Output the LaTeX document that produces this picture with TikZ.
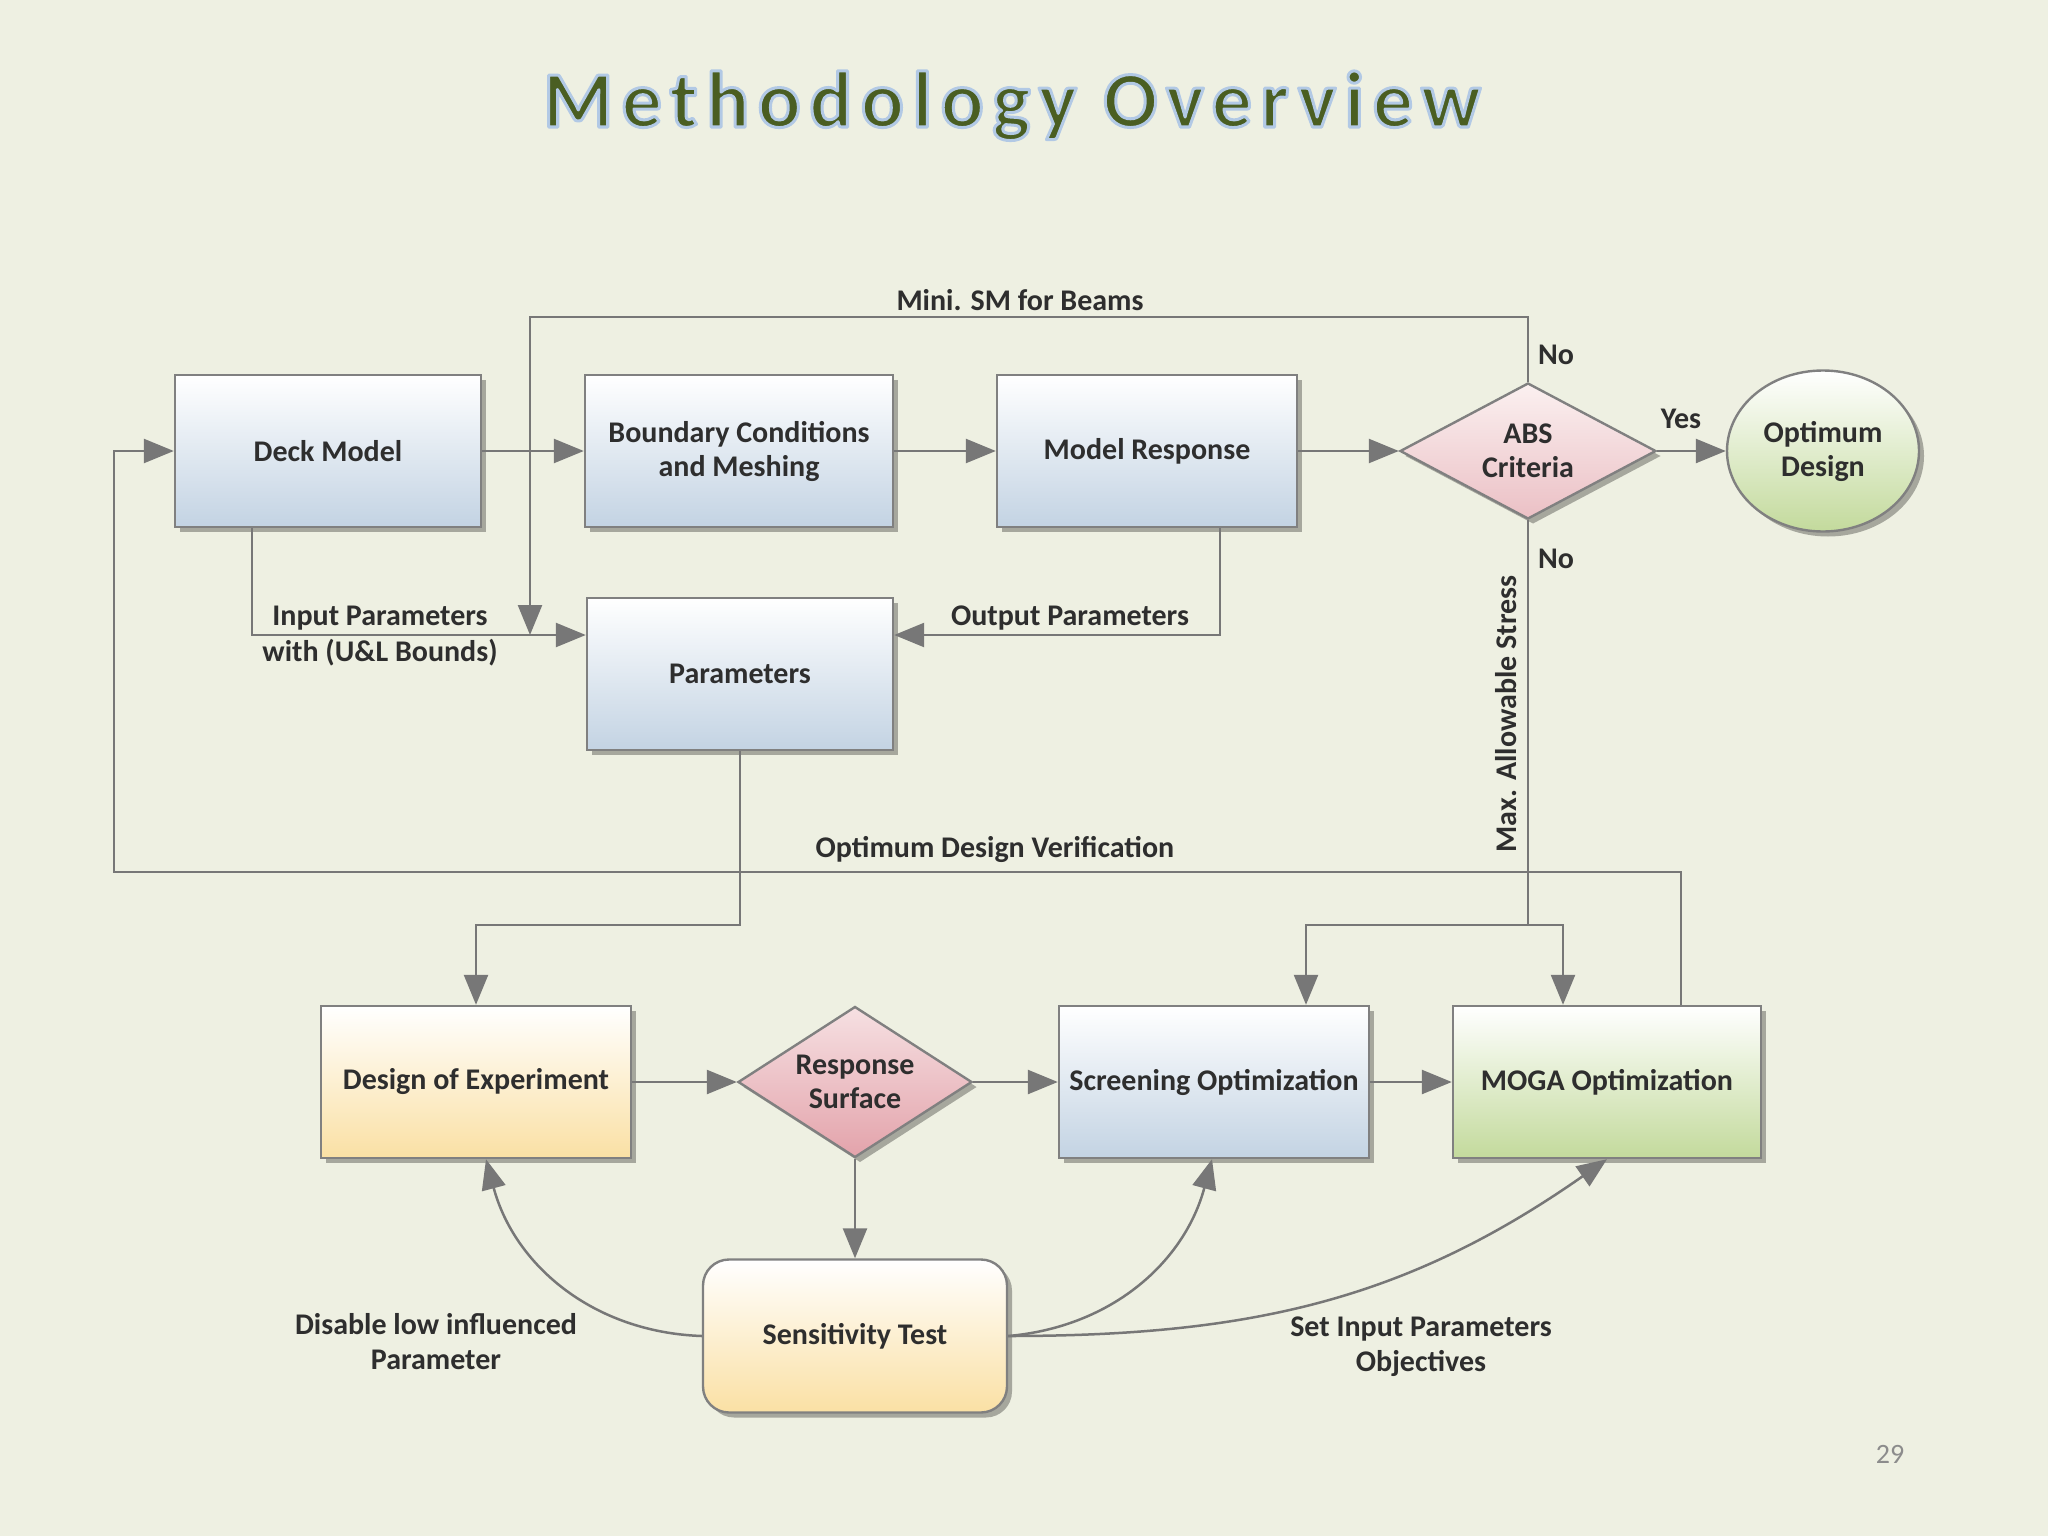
\documentclass[tikz,border=0pt]{standalone}
\usepackage{fontspec}
\setmainfont{Carlito}
\newfontfamily\titlefont[LetterSpace=10.7]{Carlito Bold}
\usetikzlibrary{arrows.meta,shapes.geometric,shadows,shadings}
\definecolor{bg}{HTML}{EEF0E2}
\definecolor{txt}{HTML}{2E2E2E}
\definecolor{lc}{HTML}{777777}
\definecolor{bdr}{HTML}{808080}
\definecolor{blueb}{HTML}{C3D3E3}
\definecolor{yelb}{HTML}{FAE0A4}
\definecolor{greenb}{HTML}{C3DA9C}
\definecolor{pinkt}{HTML}{FBF0F0}
\definecolor{pinkb}{HTML}{EBC0C5}
\definecolor{pinkt2}{HTML}{F6E0E2}
\definecolor{pinkb2}{HTML}{E3A3AB}
\definecolor{olive}{HTML}{4A5E22}
\newcommand{\glowtext}[1]{\special{pdf:literal direct 0.70 0.79 0.90 RG 3 w 1 j 2 Tr}#1\special{pdf:literal direct 0 Tr}}
\tikzset{
  lbl/.style={font=\fontsize{30}{35}\selectfont\bfseries, text=txt, align=center, inner sep=0pt},
  shape base/.style={draw=bdr, line width=2.4pt, align=center, text=txt,
     font=\fontsize{30}{34}\selectfont\bfseries,
     drop shadow={shadow xshift=5pt, shadow yshift=-5pt, fill=black, opacity=0.3}},
  procbox/.style={shape base, rectangle, minimum width=306pt, minimum height=152pt, inner sep=2pt},
  bluefill/.style={top color=white, bottom color=blueb},
  yelfill/.style={top color=white, bottom color=yelb},
  greenfill/.style={top color=white, bottom color=greenb},
  pinkfill/.style={top color=pinkt, bottom color=pinkb},
  pinkfillb/.style={top color=pinkt2, bottom color=pinkb2},
  conn/.style={draw=lc, line width=2.5pt},
  arr/.style={conn, -{Triangle[length=30pt,width=24pt]}},
  titlestyle/.style={font=\titlefont\fontsize{80}{90}\selectfont, anchor=base, inner sep=0pt}
}
\begin{document}
\begin{tikzpicture}[x=1pt,y=-1pt]
\useasboundingbox (0,0) rectangle (2048,1536);
\fill[bg] (0,0) rectangle (2048,1536);

% title
\node[titlestyle, text=olive] (title) at (1012,127) {\glowtext{Methodology Overview}};

% upper row
\node[procbox, bluefill] (deck) at (328,451) {Deck Model};
\node[procbox, bluefill, minimum width=308pt] (bc) at (739,451) {Boundary Conditions\\and Meshing};
\node[procbox, bluefill, minimum width=300pt] (mr) at (1147,451) {Model Response};
\node[shape base, diamond, pinkfill, aspect=1.88, inner sep=0pt, minimum width=256pt, minimum height=136pt] (abs) at (1528,451) {ABS\\Criteria};
\node[shape base, ellipse, greenfill, inner sep=0pt, minimum width=192pt, minimum height=161pt] (opt) at (1823,451) {Optimum\\Design};
\node[procbox, bluefill] (params) at (740,674) {Parameters};

% lower row
\node[procbox, yelfill, minimum width=310pt] (doe) at (476,1082) {Design of Experiment};
\node[shape base, diamond, pinkfillb, aspect=1.55, inner sep=0pt, minimum width=234pt, minimum height=151pt] (rs) at (855,1082) {Response\\Surface};
\node[procbox, bluefill, minimum width=310pt] (scr) at (1214,1082) {Screening Optimization};
\node[procbox, greenfill, minimum width=308pt] (moga) at (1607,1082) {MOGA Optimization};
\node[procbox, yelfill, rounded corners=26pt, minimum width=304pt, minimum height=153pt] (sens) at (855,1336) {Sensitivity Test};

% helper coordinates
\coordinate (msm) at (530,635);
\coordinate (topy) at (0,317);
\coordinate (split) at (1528,925);
\coordinate (ovl) at (114,872);

% connectors
\draw[arr] (deck) -- (bc);
\draw[arr] (bc) -- (mr);
\draw[arr] (mr) -- (abs);
\draw[arr] (abs) -- (opt);
\draw[arr] (abs.north) -- (abs.north |- topy) -| (msm);
\draw[arr] ([xshift=-76pt]deck.south) |- (params.west |- msm);
\draw[arr] ([xshift=73pt]mr.south) |- (params.east |- msm);
\draw[conn] (abs.south) -- (split);
\draw[arr] (split) -| ([xshift=92pt]scr.north);
\draw[arr] (split) -| ([xshift=-44pt]moga.north);
\draw[arr] ([xshift=74pt]moga.north) |- (ovl) |- (deck.west);
\draw[arr] (params.south) -- (params.south |- split) -| (doe.north);
\draw[arr] (doe) -- (rs);
\draw[arr] (rs) -- (scr);
\draw[arr] (scr) -- (moga);
\draw[arr] (rs) -- (sens);
\draw[arr] (sens.west) to[out=178, in=-75] ([xshift=10pt]doe.south);
\draw[arr] (sens.east) to[out=5, in=-105] ([xshift=-2pt]scr.south);
\draw[arr] (sens.east) to[out=0, in=-145] (moga.south);

% labels
\node[lbl] (lmsm) at (1020,300) {Mini. SM for Beams};
\node[lbl, anchor=west] (lno1) at (1538,355) {No};
\node[lbl, anchor=west] (lno2) at (1538,559) {No};
\node[lbl] (lyes) at (1681,419) {Yes};
\node[lbl] (lin1) at (380,618) {Input Parameters};
\node[lbl] (lin2) at (380,653) {with (U\&L Bounds)};
\node[lbl] (lout) at (1070,618) {Output Parameters};
\node[lbl, rotate=90] (lmax) at (1506,714) {Max. Allowable Stress};
\node[lbl] (lodv) at (995,849) {Optimum Design Verification};
\node[lbl] (ldis) at (436,1342) {Disable low influenced\\Parameter};
\node[lbl] (lset) at (1421,1347) {Set Input Parameters\\Objectives};
\node[font=\fontsize{28}{30}\selectfont, text=black!45, inner sep=0pt] (pg) at (1890,1454) {29};
\end{tikzpicture}
\end{document}
